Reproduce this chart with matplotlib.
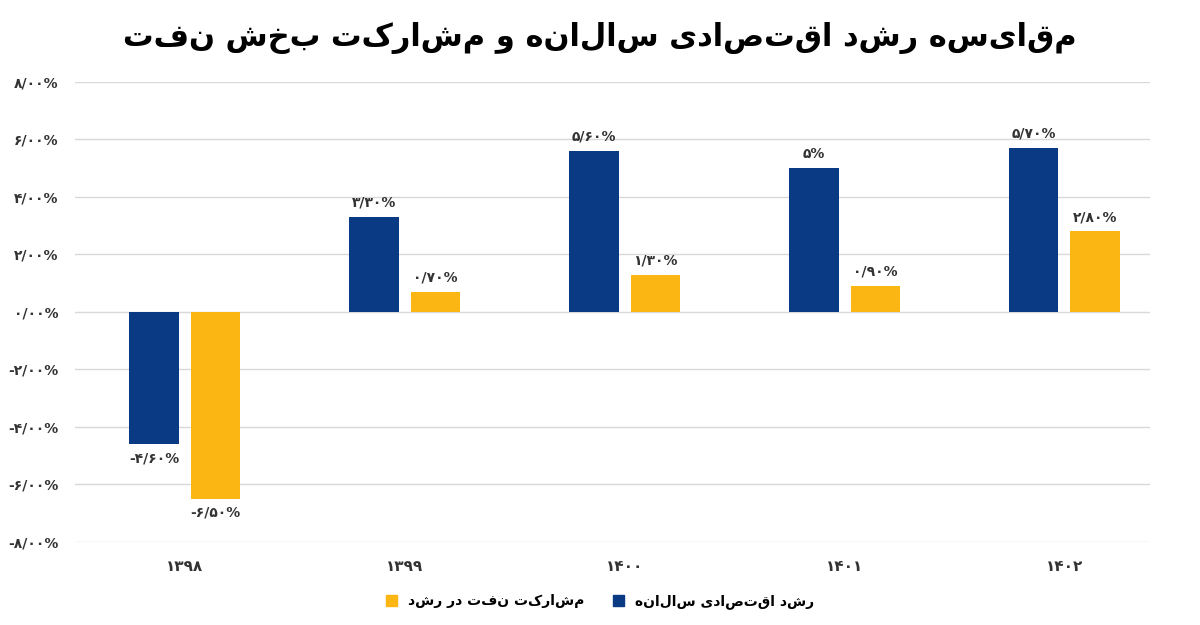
import matplotlib
matplotlib.use("Agg")
import matplotlib.pyplot as plt
import numpy as np
from matplotlib.patches import Patch

plt.rcParams["font.family"] = "DejaVu Sans"

years = ["۱۳۹۸", "۱۳۹۹", "۱۴۰۰", "۱۴۰۱", "۱۴۰۲"]
growth = [-4.6, 3.3, 5.6, 5.0, 5.7]
oil = [-6.5, 0.7, 1.3, 0.9, 2.8]
growth_lbl = ["-۴/۶۰%", "۳/۳۰%", "۵/۶۰%", "۵%", "۵/۷۰%"]
oil_lbl = ["-۶/۵۰%", "۰/۷۰%", "۱/۳۰%", "۰/۹۰%", "۲/۸۰%"]
yticks = [-8, -6, -4, -2, 0, 2, 4, 6, 8]
ytick_lbl = ["-۸/۰۰%", "-۶/۰۰%", "-۴/۰۰%", "-۲/۰۰%", "۰/۰۰%", "۲/۰۰%", "۴/۰۰%", "۶/۰۰%", "۸/۰۰%"]
title = "مقایسه رشد اقتصادی سالانه و مشارکت بخش نفت"
name_growth = "رشد اقتصادی سالانه"
name_oil = "مشارکت نفت در رشد"

BLUE, YELLOW = "#0b3a84", "#fbb614"


def rtl(s):
    # no shaping engine available; at least keep word order right-to-left
    return " ".join(w[::-1] for w in s.split(" ")[::-1])


fig = plt.figure(figsize=(12, 6.25), dpi=100)
ax = fig.add_axes([0.0625, 0.133, 0.896, 0.736])
x = np.arange(len(years))
w = 0.225
ax.bar(x - 0.14, growth, w, color=BLUE, zorder=3)
ax.bar(x + 0.14, oil, w, color=YELLOW, zorder=3)

for xi, v, l in zip(x, growth, growth_lbl):
    ax.text(xi - 0.14, v + (0.25 if v > 0 else -0.25), l, ha="center",
            va="bottom" if v > 0 else "top", fontsize=10, fontweight="bold", color="#333")
for xi, v, l in zip(x, oil, oil_lbl):
    ax.text(xi + 0.14, v + (0.25 if v > 0 else -0.25), l, ha="center",
            va="bottom" if v > 0 else "top", fontsize=10, fontweight="bold", color="#333")

ax.set_xlim(-0.5, 4.39)
ax.set_ylim(-8, 8)
ax.set_yticks(yticks)
ax.set_yticklabels(ytick_lbl, fontsize=10, fontweight="bold", color="#333")
ax.set_xticks(x)
ax.set_xticklabels(years, fontsize=11, fontweight="bold", color="#333")
ax.grid(axis="y", color="#d9d9d9", lw=1, zorder=0)
ax.tick_params(length=0, pad=12)
for s in ax.spines.values():
    s.set_visible(False)

fig.text(0.5, 0.94, rtl(title), ha="center", va="center", fontsize=22, fontweight="bold")
handles = [Patch(color=YELLOW, label=rtl(name_oil)), Patch(color=BLUE, label=rtl(name_growth))]
fig.legend(handles=handles, loc="center", bbox_to_anchor=(0.5, 0.037), ncol=2, frameon=False,
           prop={"size": 10, "weight": "bold"}, handlelength=0.8, handleheight=0.8, columnspacing=2)

fig.savefig("out.png", dpi=100)
